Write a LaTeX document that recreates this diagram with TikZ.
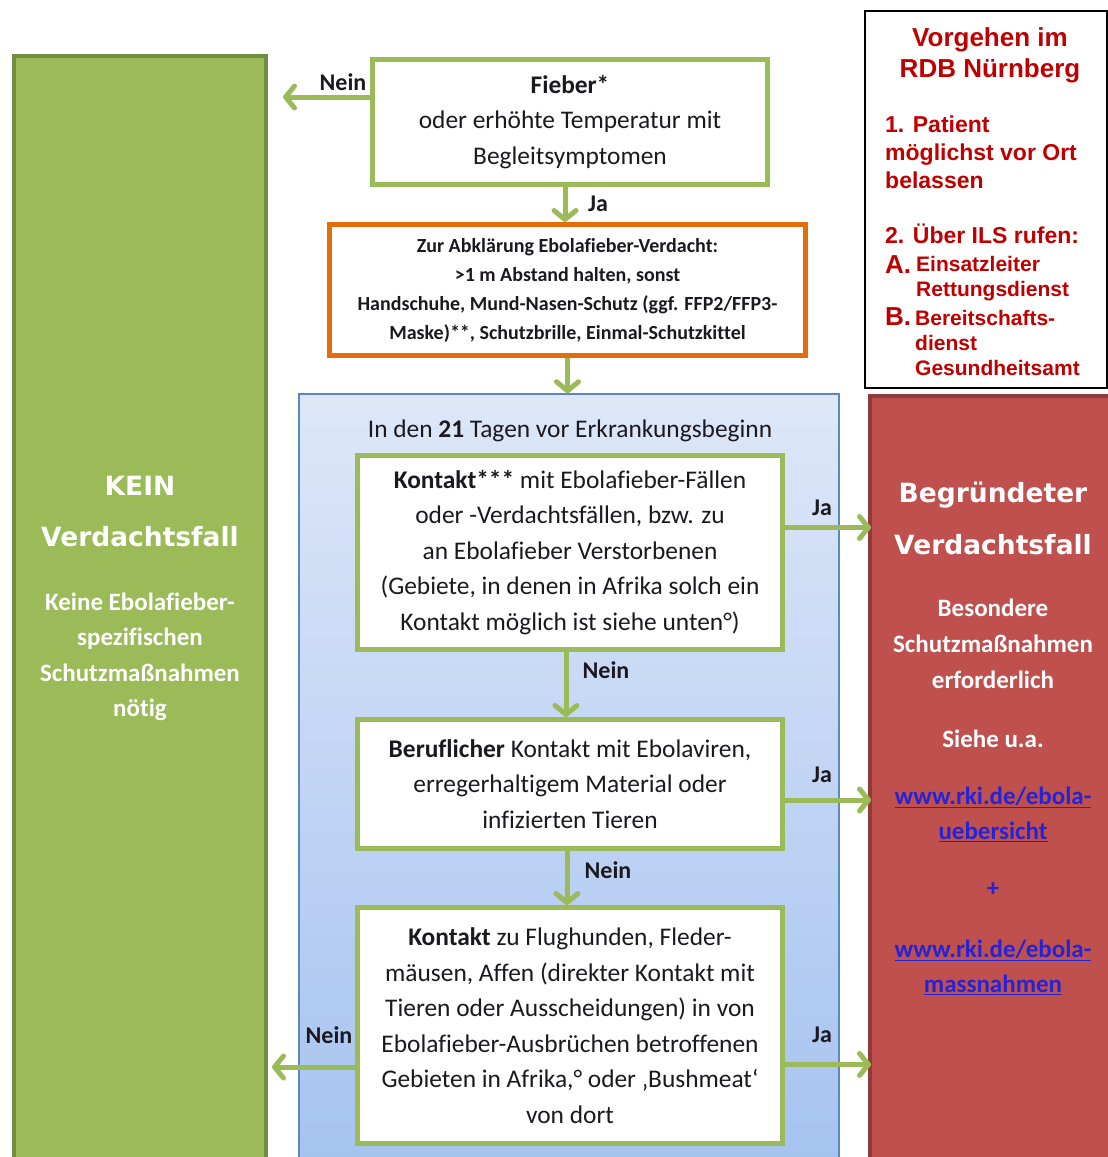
\documentclass[tikz,border=0pt]{standalone}
\usepackage{fontspec}
\setmainfont{Carlito}[Ligatures=NoCommon]
\newfontfamily\verd{DejaVu Sans}
\newfontfamily\arial{Liberation Sans}
\usetikzlibrary{arrows.meta}
\definecolor{grn}{HTML}{9BBB59}
\definecolor{grndark}{HTML}{738E42}
\definecolor{org}{HTML}{E46C0A}
\definecolor{redc}{HTML}{C0504D}
\definecolor{reddark}{HTML}{8E3B39}
\definecolor{bluetop}{HTML}{DDE7F8}
\definecolor{bluebot}{HTML}{A5C2F0}
\definecolor{blueline}{HTML}{5B87C2}
\definecolor{darkred}{HTML}{C00000}
\definecolor{txt}{HTML}{1C1820}
\definecolor{lnk}{RGB}{35,35,215}
\begin{document}
\begin{tikzpicture}[x=1pt,y=-1pt,
  flowbox/.style={draw=grn, line width=5pt, fill=white, align=center, text=txt, inner sep=0pt,
    font=\fontsize{25.4}{35.5}\selectfont},
  flow/.style={draw=grn, line width=5pt, -{Straight Barb[round, length=9pt, width=22pt]}},
  lab/.style={font=\bfseries\fontsize{24}{28}\selectfont, text=txt, inner sep=0pt},
  whitetxt/.style={text=white, align=center, inner sep=0pt},
  rdbtxt/.style={text=darkred, inner sep=0pt, anchor=west, font=\arial\bfseries\fontsize{23}{28}\selectfont},
]
\path[use as bounding box, clip] (0,0) rectangle (1108,1157);
\fill[white] (0,0) rectangle (1108,1157);

% side panels
\node[draw=grndark, fill=grn, line width=4pt, minimum width=252, minimum height=1120, inner sep=0pt] (kein) at (140,616) {};
\node[draw=reddark, fill=redc, line width=4pt, minimum width=250, minimum height=780, inner sep=0pt] (red) at (995,786) {};
\node[draw=black, line width=1.2pt, fill=white, minimum width=242, minimum height=377, inner sep=0pt] (rdb) at (986,199.5) {};
\node[draw=blueline, line width=1.5pt, top color=bluetop, bottom color=bluebot, minimum width=540, minimum height=780, inner sep=0pt] (blue) at (569,784) {};

% flow boxes
\node[flowbox, minimum width=395, minimum height=125] (fieber) at (570,122)
  {\textbf{Fieber*}\\oder erhöhte Temperatur mit\\Begleitsymptomen};
\node[flowbox, draw=org, minimum width=476, minimum height=131, font=\bfseries\fontsize{20}{29}\selectfont] (orange) at (567.5,290)
  {Zur Abklärung Ebolafieber-Verdacht:\\>1 m Abstand halten, sonst\\Handschuhe, Mund-Nasen-Schutz (ggf. FFP2/FFP3-\\Maske)**, Schutzbrille, Einmal-Schutzkittel};
\node[text=txt, inner sep=0pt, font=\fontsize{25.4}{30}\selectfont] (head) at (570,431)
  {In den \textbf{21} Tagen vor Erkrankungsbeginn};
\node[flowbox, minimum width=425, minimum height=194] (k1) at (570,552.5)
  {\textbf{Kontakt***} mit Ebolafieber-Fällen\\oder -Verdachtsfällen, bzw. zu\\an Ebolafieber Verstorbenen\\(Gebiete, in denen in Afrika solch ein\\Kontakt möglich ist siehe unten°)};
\node[flowbox, minimum width=425, minimum height=129] (k2) at (570,784)
  {\textbf{Beruflicher} Kontakt mit Ebolaviren,\\erregerhaltigem Material oder\\infizierten Tieren};
\node[flowbox, minimum width=425, minimum height=236] (k3) at (570,1025.5)
  {\textbf{Kontakt} zu Flughunden, Fleder-\\mäusen, Affen (direkter Kontakt mit\\Tieren oder Ausscheidungen) in von\\Ebolafieber-Ausbrüchen betroffenen\\Gebieten in Afrika,° oder ‚Bushmeat‘\\von dort};

% connectors
\coordinate (n1end) at (283,97);
\draw[flow] ([yshift=25pt]fieber.west) -- (n1end);
\draw[flow] ([xshift=-5pt]fieber.south) -- ([xshift=-5pt]fieber.south |- orange.north);
\draw[flow] (orange.south) -- (orange.south |- blue.north);
\draw[flow] ([yshift=25pt]k1.east) -- ([yshift=25pt,xshift=3pt]k1.east -| red.west);
\draw[flow] ([xshift=-4pt]k1.south) -- ([xshift=-4pt]k1.south |- k2.north);
\draw[flow] ([yshift=-16pt]k2.east) -- ([yshift=-16pt,xshift=3pt]k2.east -| red.west);
\draw[flow] ([xshift=-3pt]k2.south) -- ([xshift=-3pt]k2.south |- k3.north);
\draw[flow] ([yshift=-39pt]k3.east) -- ([yshift=-39pt,xshift=3pt]k3.east -| red.west);
\draw[flow] ([yshift=-41.5pt]k3.west) -- ([yshift=-41.5pt,xshift=4pt]k3.west -| kein.east);

% labels
\node[lab] (l1) at (343,82) {Nein};
\node[lab] (l2) at (598,204) {Ja};
\node[lab] (l3) at (822,508) {Ja};
\node[lab] (l4) at (606,670) {Nein};
\node[lab] (l5) at (822,775) {Ja};
\node[lab] (l6) at (608,870) {Nein};
\node[lab] (l7) at (329,1035) {Nein};
\node[lab] (l8) at (822,1035) {Ja};

% green panel text
\node[whitetxt, font=\verd\bfseries\fontsize{26.5}{51}\selectfont] (kt1) at (140,511.5) {KEIN\\Verdachtsfall};
\node[whitetxt, font=\bfseries\fontsize{25}{35.5}\selectfont] (kt2) at (140,657) {Keine Ebolafieber-\\spezifischen\\Schutzmaßnahmen\\nötig};

% red panel text
\node[whitetxt, font=\verd\bfseries\fontsize{26.5}{52}\selectfont] (rt1) at (993,518) {Begründeter\\Verdachtsfall};
\node[whitetxt, font=\bfseries\fontsize{25}{36}\selectfont] (rt2) at (993,644) {Besondere\\Schutzmaßnahmen\\erforderlich};
\node[whitetxt, font=\bfseries\fontsize{25}{36}\selectfont] (rt3) at (993,739) {Siehe u.a.};
\node[text=lnk, align=center, inner sep=0pt, font=\bfseries\fontsize{25}{35}\selectfont] (rt4) at (993,814.5) {\underline{www.rki.de/ebola-}\\\underline{uebersicht}};
\node[text=lnk, inner sep=0pt, font=\bfseries\fontsize{25}{35}\selectfont] (rt5) at (993,890) {+};
\node[text=lnk, align=center, inner sep=0pt, font=\bfseries\fontsize{25}{35}\selectfont] (rt6) at (993,967) {\underline{www.rki.de/ebola-}\\\underline{massnahmen}};

% RDB box text
\node[text=darkred, align=center, inner sep=0pt, font=\arial\bfseries\fontsize{26}{31}\selectfont] (r1) at (990,55) {Vorgehen im\\RDB Nürnberg};
\node[rdbtxt, align=left, font=\arial\bfseries\fontsize{23}{28}\selectfont] (r2) at (885,152) {1. Patient\\möglichst vor Ort\\belassen};
\node[rdbtxt] (r3) at (885,234) {2. Über ILS rufen:};
\node[rdbtxt, font=\arial\bfseries\fontsize{26}{28}\selectfont] (r4) at (885,265) {A.};
\node[rdbtxt, align=left, font=\arial\bfseries\fontsize{21}{25.5}\selectfont] (r5) at (916,278.5) {Einsatzleiter\\Rettungsdienst};
\node[rdbtxt, font=\arial\bfseries\fontsize{26}{28}\selectfont] (r6) at (885,317) {B.};
\node[rdbtxt, align=left, font=\arial\bfseries\fontsize{21}{25}\selectfont] (r7) at (915,343) {Bereitschafts-\\dienst\\Gesundheitsamt};
\end{tikzpicture}
\end{document}
